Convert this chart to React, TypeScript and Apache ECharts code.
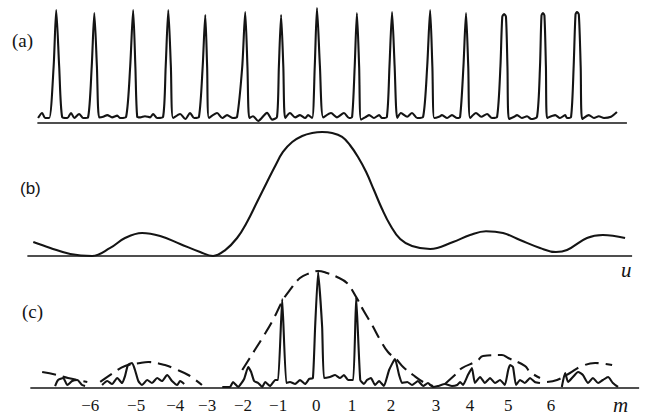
import { useEffect, useRef } from "react";
import * as echarts from "echarts";

// x in diffraction-order units m, y relative intensity (0..1) per panel
const X_MIN = -8.6;
const X_MAX = 8.92;

// (a) multi-slit interference pattern
const curveA: number[][] = [
  [-7.57, 0.044], [-7.46, 0.088], [-7.38, 0.044], [-7.27, 0.044],
  [-7.15, 0.5], [-7.08, 1.0], [-7.0, 0.5], [-6.92, 0.053],
  [-6.78, 0.044], [-6.68, 0.088], [-6.59, 0.044], [-6.46, 0.08], [-6.35, 0.044], [-6.22, 0.05],
  [-6.12, 0.5], [-6.05, 0.973], [-5.98, 0.5], [-5.92, 0.05],
  [-5.81, 0.055], [-5.7, 0.07], [-5.57, 0.05], [-5.43, 0.065], [-5.35, 0.044], [-5.19, 0.055],
  [-5.08, 0.5], [-5.0, 1.0], [-4.94, 0.5], [-4.89, 0.055],
  [-4.81, 0.05], [-4.68, 0.06], [-4.54, 0.05], [-4.46, 0.08], [-4.35, 0.044], [-4.19, 0.055],
  [-4.12, 0.5], [-4.05, 1.0], [-3.98, 0.5], [-3.92, 0.044],
  [-3.73, 0.08], [-3.59, 0.035], [-3.46, 0.088], [-3.35, 0.044], [-3.22, 0.055],
  [-3.12, 0.5], [-3.05, 0.956], [-3.0, 0.5], [-2.95, 0.044],
  [-2.73, 0.088], [-2.59, 0.044], [-2.46, 0.07], [-2.3, 0.044], [-2.19, 0.055],
  [-2.05, 0.5], [-1.97, 0.982], [-1.91, 0.5], [-1.86, 0.044],
  [-1.76, 0.06], [-1.62, 0.018], [-1.38, 0.09], [-1.24, 0.03], [-1.11, 0.055],
  [-1.06, 0.5], [-1.0, 0.956], [-0.94, 0.5], [-0.89, 0.044],
  [-0.76, 0.088], [-0.62, 0.05], [-0.49, 0.07], [-0.35, 0.044], [-0.27, 0.07], [-0.16, 0.044],
  [-0.09, 0.5], [-0.03, 1.018], [0.05, 0.5], [0.14, 0.05],
  [0.35, 0.088], [0.51, 0.05], [0.7, 0.088], [0.84, 0.044], [0.92, 0.055],
  [0.99, 0.5], [1.05, 0.973], [1.11, 0.5], [1.16, 0.03],
  [1.3, 0.055], [1.38, 0.07], [1.51, 0.044], [1.65, 0.07], [1.73, 0.044], [1.86, 0.055],
  [1.93, 0.5], [2.0, 0.982], [2.07, 0.5], [2.14, 0.044],
  [2.24, 0.088], [2.41, 0.055], [2.54, 0.088], [2.68, 0.044], [2.84, 0.055],
  [2.95, 0.5], [3.03, 1.0], [3.09, 0.5], [3.14, 0.044],
  [3.27, 0.055], [3.35, 0.07], [3.49, 0.044], [3.62, 0.07], [3.76, 0.044], [3.84, 0.055],
  [3.93, 0.5], [4.0, 0.973], [4.06, 0.5], [4.11, 0.044],
  [4.27, 0.088], [4.41, 0.055], [4.57, 0.08], [4.7, 0.044], [4.84, 0.055],
  [4.93, 0.5], [4.98, 0.94], [5.03, 0.965], [5.08, 0.94], [5.12, 0.5], [5.16, 0.035],
  [5.3, 0.055], [5.38, 0.07], [5.51, 0.044], [5.65, 0.06], [5.76, 0.035], [5.92, 0.055],
  [6.0, 0.5], [6.04, 0.95], [6.08, 0.973], [6.12, 0.95], [6.16, 0.5], [6.19, 0.044],
  [6.41, 0.07], [6.54, 0.044], [6.68, 0.07], [6.73, 0.044], [6.84, 0.055],
  [6.91, 0.5], [6.96, 0.96], [7.0, 0.982], [7.05, 0.96], [7.1, 0.5], [7.14, 0.035],
  [7.32, 0.07], [7.46, 0.044], [7.59, 0.06], [7.73, 0.044], [7.92, 0.055], [8.08, 0.097],
];
const baseA: number[][] = [[-7.59, 0], [8.35, 0]];

// (b) single-slit diffraction envelope
const curveB: number[][] = [
  [-7.7, 0.113], [-7.24, 0.065], [-6.7, 0.016], [-6.11, 0.0], [-5.62, 0.065],
  [-5.22, 0.145], [-4.76, 0.185], [-4.27, 0.161], [-3.73, 0.097], [-3.19, 0.032],
  [-2.84, 0.0], [-2.51, 0.048], [-2.19, 0.145], [-1.92, 0.274], [-1.65, 0.435],
  [-1.38, 0.597], [-1.16, 0.726], [-0.95, 0.839], [-0.7, 0.919], [-0.43, 0.968],
  [-0.16, 0.992], [0.11, 1.0], [0.38, 0.992], [0.65, 0.96], [0.86, 0.895],
  [1.08, 0.798], [1.3, 0.677], [1.51, 0.532], [1.73, 0.379], [1.95, 0.25],
  [2.22, 0.137], [2.54, 0.081], [3.03, 0.056], [3.65, 0.113], [4.11, 0.169],
  [4.54, 0.2], [5.0, 0.185], [5.46, 0.129], [6.0, 0.065], [6.43, 0.032],
  [6.73, 0.048], [7.27, 0.145], [7.7, 0.169], [8.3, 0.145],
];
const baseB: number[][] = [[-7.86, 0], [8.49, 0]];

// (c) combined pattern (solid) and envelope (dashed)
const solidC1: number[][] = [
  [-7.11, 0.017], [-7.03, 0.069], [-6.89, 0.086], [-6.78, 0.026], [-6.65, 0.06],
  [-6.51, 0.069], [-6.38, 0.026], [-6.3, 0.017],
];
const solidC2: number[][] = [
  [-5.84, 0.026], [-5.7, 0.06], [-5.57, 0.034], [-5.43, 0.086], [-5.3, 0.043],
  [-5.22, 0.103], [-5.14, 0.198], [-5.03, 0.216], [-4.95, 0.155], [-4.86, 0.06],
  [-4.76, 0.026], [-4.62, 0.069], [-4.49, 0.043], [-4.35, 0.086], [-4.22, 0.06],
  [-4.08, 0.112], [-3.95, 0.06], [-3.81, 0.026], [-3.73, 0.06], [-3.62, 0.034],
];
const solidC3: number[][] = [
  [-2.59, 0.009], [-2.38, 0.009], [-2.3, 0.052], [-2.16, 0.009], [-2.0, 0.078],
  [-1.89, 0.181], [-1.81, 0.138], [-1.73, 0.06], [-1.62, 0.043], [-1.51, 0.009],
  [-1.43, 0.052], [-1.3, 0.017], [-1.16, 0.069], [-1.08, 0.069], [-0.97, 0.767],
  [-0.86, 0.043], [-0.76, 0.052], [-0.62, 0.034], [-0.49, 0.069], [-0.35, 0.034],
  [-0.24, 0.078], [-0.14, 0.086], [-0.08, 0.526], [0.0, 1.0], [0.11, 0.526],
  [0.16, 0.086], [0.32, 0.095], [0.46, 0.112], [0.59, 0.086], [0.7, 0.112],
  [0.81, 0.069], [0.95, 0.069], [1.03, 0.784], [1.14, 0.069], [1.24, 0.034],
  [1.32, 0.069], [1.43, 0.086], [1.54, 0.026], [1.65, 0.06], [1.78, 0.017],
  [1.92, 0.155], [2.08, 0.25], [2.19, 0.112], [2.27, 0.043], [2.41, 0.052],
  [2.54, 0.026], [2.7, 0.06], [2.84, 0.017], [2.97, 0.043], [3.11, 0.009],
  [3.24, 0.017], [3.43, 0.034], [3.62, 0.017], [3.76, 0.026], [3.84, 0.052],
  [3.92, 0.026], [4.05, 0.112], [4.16, 0.172], [4.24, 0.043], [4.38, 0.095],
  [4.51, 0.043], [4.65, 0.086], [4.78, 0.043], [4.92, 0.069], [5.05, 0.026],
  [5.14, 0.155], [5.19, 0.198], [5.27, 0.181], [5.35, 0.026], [5.46, 0.069],
  [5.59, 0.043], [5.73, 0.086], [5.86, 0.052], [6.0, 0.043],
];
const solidC4: number[][] = [
  [6.59, 0.009], [6.68, 0.129], [6.76, 0.052], [6.89, 0.095], [7.03, 0.138],
  [7.16, 0.112], [7.3, 0.043], [7.43, 0.086], [7.57, 0.043], [7.7, 0.069],
  [7.84, 0.095], [7.97, 0.043], [8.11, 0.009],
];
const envFarLeft: number[][] = [[-7.46, 0.138], [-7.05, 0.112], [-6.76, 0.086], [-6.24, 0.052]];
const envLeft: number[][] = [
  [-5.89, 0.052], [-5.54, 0.129], [-5.22, 0.19], [-4.81, 0.216], [-4.59, 0.224],
  [-4.14, 0.198], [-3.86, 0.164], [-3.51, 0.112], [-3.14, 0.026],
];
const envMain: number[][] = [
  [-2.05, 0.155], [-1.76, 0.302], [-1.49, 0.44], [-1.22, 0.586], [-0.95, 0.759],
  [-0.76, 0.845], [-0.49, 0.948], [-0.22, 0.991], [0.0, 1.009], [0.24, 0.991],
  [0.51, 0.957], [0.78, 0.905], [1.03, 0.784], [1.22, 0.672], [1.46, 0.543],
  [1.68, 0.414], [1.89, 0.31], [2.11, 0.25], [2.3, 0.181], [2.57, 0.112],
  [2.84, 0.052], [3.11, 0.017],
];
const envRight: number[][] = [
  [3.43, 0.035], [3.76, 0.129], [3.89, 0.172], [4.3, 0.233], [4.46, 0.276],
  [4.97, 0.284], [5.14, 0.259], [5.59, 0.19], [5.73, 0.138], [6.0, 0.086],
];
const envFarRight: number[][] = [
  [6.19, 0.052], [6.46, 0.069], [6.81, 0.129], [7.08, 0.181], [7.49, 0.216], [7.95, 0.198],
];
const baseC: number[][] = [[-7.78, 0], [8.68, 0]];

// order labels under (c), at the positions where they are printed
const tickPos = [-6.16, -4.92, -3.86, -3.0, -2.03, -1.08, -0.05, 0.92, 1.97, 3.19, 4.11, 5.14, 6.3];
const tickLabels = ["−6", "−5", "−4", "−3", "−2", "−1", "0", "1", "2", "3", "4", "5", "6"];

const INK = "#141414";
const SERIF = "Times New Roman";
const SANS = "Arial";

export default function App() {
  const ref = useRef<HTMLDivElement>(null);
  useEffect(() => {
    if (!ref.current) return;
    const chart = echarts.init(ref.current, undefined, { renderer: "svg" });
    const solid = (data: number[][], idx: number, smooth: number, width = 2.1) => ({
      type: "line",
      xAxisIndex: idx,
      yAxisIndex: idx,
      data,
      symbol: "none",
      smooth,
      clip: false,
      lineStyle: { color: INK, width },
    });
    const dashed = (data: number[][]) => ({
      type: "line",
      xAxisIndex: 2,
      yAxisIndex: 2,
      data,
      symbol: "none",
      smooth: 0.4,
      clip: false,
      lineStyle: { color: INK, width: 2.1, type: [14, 7] },
    });
    const hiddenX = (i: number) => ({
      type: "value",
      gridIndex: i,
      min: X_MIN,
      max: X_MAX,
      show: false,
    });
    const yAx = (i: number) => ({ type: "value", gridIndex: i, min: 0, max: 1, show: false });
    chart.setOption({
      animation: false,
      backgroundColor: "#ffffff",
      textStyle: { fontFamily: SERIF },
      grid: [
        { left: 0, right: 0, top: 10, bottom: 292 },
        { left: 0, right: 0, top: 132, bottom: 159 },
        { left: 0, right: 0, top: 272, bottom: 27 },
      ],
      xAxis: [
        hiddenX(0),
        hiddenX(1),
        {
          type: "value",
          gridIndex: 2,
          min: X_MIN,
          max: X_MAX,
          axisLine: { show: false },
          axisTick: { show: false },
          splitLine: { show: false },
          axisLabel: {
            customValues: tickPos,
            interval: 0,
            margin: 9,
            color: INK,
            fontSize: 17,
            fontFamily: SERIF,
            formatter: (v: number) => {
              const i = tickPos.findIndex((p) => Math.abs(p - v) < 1e-6);
              return i >= 0 ? tickLabels[i] : "";
            },
          },
        },
      ],
      yAxis: [yAx(0), yAx(1), yAx(2)],
      series: [
        solid(baseA, 0, 0, 1.6),
        solid(curveA, 0, 0.25),
        solid(baseB, 1, 0, 1.6),
        solid(curveB, 1, 0.4),
        solid(baseC, 2, 0, 1.6),
        solid(solidC1, 2, 0.2),
        solid(solidC2, 2, 0.2),
        solid(solidC3, 2, 0.15),
        solid(solidC4, 2, 0.2),
        dashed(envFarLeft),
        dashed(envLeft),
        dashed(envMain),
        dashed(envRight),
        dashed(envFarRight),
      ],
      graphic: [
        { type: "text", left: 12, top: 31, style: { text: "(a)", fontSize: 19, fontFamily: SERIF, fill: INK } },
        { type: "text", left: 20, top: 180, style: { text: "(b)", fontSize: 17, fontFamily: SANS, fill: INK } },
        { type: "text", left: 22, top: 302, style: { text: "(c)", fontSize: 19, fontFamily: SERIF, fill: INK } },
        { type: "text", left: 621, top: 259, style: { text: "u", fontSize: 21, fontStyle: "italic", fontFamily: SERIF, fill: INK } },
        { type: "text", left: 613, top: 394, style: { text: "m", fontSize: 21, fontStyle: "italic", fontFamily: SERIF, fill: INK } },
      ],
    });
    return () => chart.dispose();
  }, []);
  return (
    <div
      ref={ref}
      style={{ position: "fixed", left: 0, top: 0, width: 648, height: 415, background: "#fff" }}
    />
  );
}
